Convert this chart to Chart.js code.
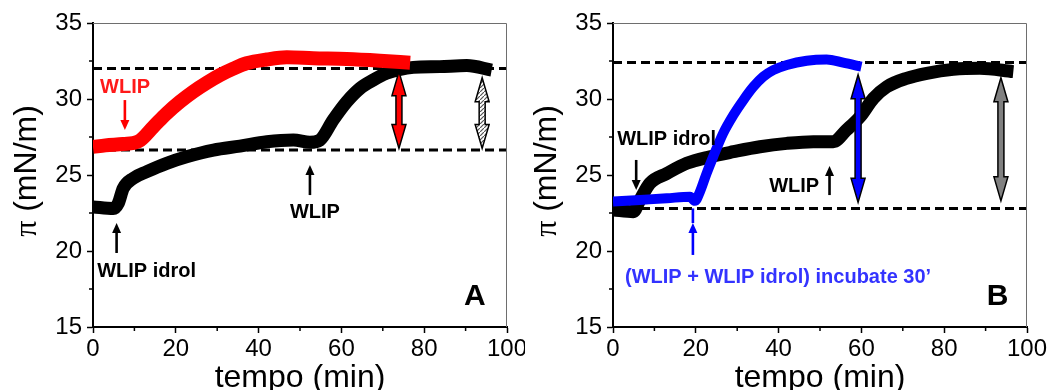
<!DOCTYPE html>
<html>
<head>
<meta charset="utf-8">
<title>Pressione superficiale - WLIP</title>
<script src="https://cdn.jsdelivr.net/npm/chart.js@4.4.1/dist/chart.umd.min.js"></script>
<style>
  html, body { margin: 0; padding: 0; background: #fff; }
  #wrap { display: flex; width: 1050px; height: 390px; overflow: hidden; }
  .panel { position: relative; width: 525px; height: 390px; }
  canvas { display: block; }
</style>
</head>
<body>
<div id="wrap">
  <div class="panel"><canvas id="panelA" width="525" height="390"></canvas></div>
  <div class="panel"><canvas id="panelB" width="525" height="390"></canvas></div>
</div>
<script>
// ---- axis ticks ----
const xTicks = [0, 20, 40, 60, 80, 100];
const xMinorTicks = [10, 30, 50, 70, 90];
const yTicks = [15, 20, 25, 30, 35];
const yMinorTicks = [17.5, 22.5, 27.5, 32.5];

// ---- panel A: surface pressure (mN/m) vs time (min) ----
const timeA_wlip = [0, 3, 7.3, 10.9, 14.6, 17.8, 21, 24.2, 27.5, 30.7, 33.9, 37.1, 42, 46.8, 53.2, 61.3, 69.3, 76.6];
const piA_wlip   = [26.85, 26.95, 27.04, 27.2, 28.18, 29.06, 29.82, 30.48, 31.07, 31.58, 32.0, 32.35, 32.6, 32.74, 32.68, 32.63, 32.52, 32.39];

const timeA_idrol = [0, 4.9, 6.1, 7.3, 9.7, 13, 17.8, 22.6, 29.1, 35.5, 42, 48.4, 52.4, 54.8, 58, 61.3, 64.5, 67.7, 70.9, 74.2, 77.4, 83.8, 90.3, 96.3];
const piA_idrol   = [22.9, 22.8, 23.14, 24.12, 24.78, 25.22, 25.77, 26.2, 26.64, 26.9, 27.19, 27.3, 27.15, 27.3, 28.62, 29.82, 30.7, 31.25, 31.69, 31.95, 32.08, 32.13, 32.2, 31.9];

const levelsA = [32.0, 26.65];

// ---- panel B ----
const timeB_mix = [0, 6.5, 13, 18.6, 19.8, 21, 22.6, 24.2, 26.6, 29.1, 31.5, 33.9, 36.3, 38.7, 42, 46.8, 51.6, 55.6, 60];
const piB_mix   = [23.25, 23.36, 23.47, 23.57, 23.3, 23.9, 25.1, 26.2, 27.74, 28.95, 29.93, 30.8, 31.47, 31.9, 32.24, 32.52, 32.6, 32.39, 32.13];

const timeB_idrol = [0, 4.9, 6.5, 8.9, 13, 17.8, 23.4, 29.1, 35.5, 42, 48.4, 53.2, 56.4, 59.7, 62.9, 66.1, 70.9, 75.8, 82.2, 88.6, 96.7];
const piB_idrol   = [22.7, 22.59, 23.36, 24.45, 25.1, 25.77, 26.2, 26.53, 26.86, 27.08, 27.19, 27.19, 27.96, 28.84, 30.04, 30.8, 31.36, 31.69, 31.95, 32.02, 31.8];

const levelsB = [32.4, 22.8];

// ---- helpers ----
const SANS = '"Liberation Sans", Arial, Helvetica, sans-serif';
const SERIF = '"Liberation Serif", "Times New Roman", serif';

function pairs(xs, ys) { return xs.map((t, i) => ({ x: t, y: ys[i] })); }

function traceSet(xs, ys, color, width) {
  return { data: pairs(xs, ys), borderColor: color, borderWidth: width, pointRadius: 0, cubicInterpolationMode: 'monotone', fill: false };
}

function levelSet(v) {
  return { data: [{ x: 0, y: v }, { x: 100, y: v }], borderColor: '#000', borderWidth: 3, borderDash: [9, 5], pointRadius: 0, tension: 0, fill: false };
}

function hatch(ctx) {
  const c = document.createElement('canvas');
  c.width = 4; c.height = 4;
  const g = c.getContext('2d');
  g.fillStyle = '#fff'; g.fillRect(0, 0, 4, 4);
  g.strokeStyle = '#555'; g.lineWidth = 1.2;
  g.beginPath(); g.moveTo(-1, 5); g.lineTo(5, -1); g.stroke();
  return ctx.createPattern(c, 'repeat');
}

function thinArrow(ctx, x, yFrom, yTo, color) {
  const dir = yTo < yFrom ? -1 : 1;
  const hl = 10, hw = 4.5;
  ctx.strokeStyle = color; ctx.fillStyle = color; ctx.lineWidth = 2.6;
  ctx.beginPath(); ctx.moveTo(x, yFrom); ctx.lineTo(x, yTo - dir * hl * 0.6); ctx.stroke();
  ctx.beginPath();
  ctx.moveTo(x, yTo);
  ctx.lineTo(x - hw, yTo - dir * hl);
  ctx.lineTo(x + hw, yTo - dir * hl);
  ctx.closePath(); ctx.fill();
}

function fatArrow(ctx, x, yTop, yBot, fill) {
  const hl = 24, hw = 7, sw = 3;
  ctx.beginPath();
  ctx.moveTo(x, yTop);
  ctx.lineTo(x + hw, yTop + hl);
  ctx.lineTo(x + sw, yTop + hl);
  ctx.lineTo(x + sw, yBot - hl);
  ctx.lineTo(x + hw, yBot - hl);
  ctx.lineTo(x, yBot);
  ctx.lineTo(x - hw, yBot - hl);
  ctx.lineTo(x - sw, yBot - hl);
  ctx.lineTo(x - sw, yTop + hl);
  ctx.lineTo(x - hw, yTop + hl);
  ctx.closePath();
  ctx.fillStyle = fill; ctx.fill();
  ctx.strokeStyle = '#000'; ctx.lineWidth = 1.5; ctx.lineJoin = 'miter'; ctx.stroke();
}

// frame, minor ticks, axis titles and annotations
const panelDecor = {
  id: 'panelDecor',
  afterDraw(chart, args, opts) {
    const { ctx, chartArea: ca } = chart;
    const sx = chart.scales.x, sy = chart.scales.y;
    const X = v => sx.getPixelForValue(v), Y = v => sy.getPixelForValue(v);
    ctx.save();

    // thin upper / right frame
    ctx.strokeStyle = '#6e6e6e'; ctx.lineWidth = 1;
    ctx.beginPath();
    ctx.moveTo(ca.left, ca.top + 0.5);
    ctx.lineTo(ca.right - 0.5, ca.top + 0.5);
    ctx.lineTo(ca.right - 0.5, ca.bottom);
    ctx.stroke();

    // minor ticks
    ctx.strokeStyle = '#000'; ctx.lineWidth = 1.5;
    xMinorTicks.forEach(v => { const p = X(v); ctx.beginPath(); ctx.moveTo(p, ca.bottom); ctx.lineTo(p, ca.bottom + 4); ctx.stroke(); });
    yMinorTicks.forEach(v => { const p = Y(v); ctx.beginPath(); ctx.moveTo(ca.left, p); ctx.lineTo(ca.left - 4, p); ctx.stroke(); });

    // x title
    ctx.fillStyle = '#000';
    ctx.font = '32px ' + SANS;
    ctx.textAlign = 'center'; ctx.textBaseline = 'alphabetic';
    ctx.fillText('tempo (min)', (ca.left + ca.right) / 2, 387);

    // y title: serif pi followed by the unit
    ctx.save();
    ctx.translate(ca.left - 57, (ca.top + ca.bottom) / 2 - 4);
    ctx.rotate(-Math.PI / 2);
    ctx.textAlign = 'left';
    ctx.font = '32px ' + SERIF;
    const wPi = ctx.measureText('\u03c0').width;
    ctx.font = '32px ' + SANS;
    const wRest = ctx.measureText(' (mN/m)').width;
    const start = -(wPi + wRest) / 2;
    ctx.font = '32px ' + SERIF;
    ctx.fillText('\u03c0', start, 0);
    ctx.font = '32px ' + SANS;
    ctx.fillText(' (mN/m)', start + wPi, 0);
    ctx.restore();

    // annotations
    (opts.items || []).forEach(it => {
      if (it.kind === 'text') {
        ctx.font = it.font;
        ctx.fillStyle = it.color;
        ctx.textAlign = it.align || 'left';
        ctx.textBaseline = 'alphabetic';
        ctx.fillText(it.text, X(it.x), Y(it.y));
      } else if (it.kind === 'arrow') {
        thinArrow(ctx, X(it.x), Y(it.from), Y(it.to), it.color);
        if (it.tail !== undefined) {
          ctx.strokeStyle = it.color; ctx.lineWidth = 2.6;
          ctx.beginPath(); ctx.moveTo(X(it.x), Y(it.to)); ctx.lineTo(X(it.x), Y(it.tail)); ctx.stroke();
        }
      } else if (it.kind === 'double') {
        const fill = it.fill === 'hatch' ? hatch(ctx) : it.fill;
        fatArrow(ctx, X(it.x), Y(it.top), Y(it.bottom), fill);
      }
    });
    ctx.restore();
  }
};

function buildPanel(id, datasets, leftWidth, rightPad, items) {
  const tickFont = { family: SANS, size: 24 };
  return new Chart(document.getElementById(id), {
    type: 'line',
    data: { datasets },
    options: {
      responsive: false,
      animation: false,
      devicePixelRatio: 1,
      layout: { padding: { left: 0, right: rightPad, top: 23, bottom: 0 } },
      plugins: {
        legend: { display: false },
        tooltip: { enabled: false },
        panelDecor: { items }
      },
      elements: { line: { borderJoinStyle: 'round', borderCapStyle: 'butt' } },
      scales: {
        x: {
          type: 'linear', min: 0, max: 100,
          afterBuildTicks: s => { s.ticks = xTicks.map(v => ({ value: v })); },
          ticks: { font: tickFont, color: '#000', padding: 2, maxRotation: 0, autoSkip: false },
          grid: { drawOnChartArea: false, drawTicks: true, tickLength: 6, tickWidth: 1.5, tickColor: '#000' },
          border: { display: true, color: '#000', width: 2 },
          afterFit: s => { s.height = 63; s.paddingLeft = 0; s.paddingRight = 0; }
        },
        y: {
          type: 'linear', min: 15, max: 35,
          afterBuildTicks: s => { s.ticks = yTicks.map(v => ({ value: v })); },
          ticks: { font: tickFont, color: '#000', padding: 5 },
          grid: { drawOnChartArea: false, drawTicks: true, tickLength: 6, tickWidth: 1.5, tickColor: '#000' },
          border: { display: true, color: '#000', width: 2 },
          afterFit: s => { s.width = leftWidth; s.paddingTop = 0; s.paddingBottom = 0; }
        }
      }
    },
    plugins: [panelDecor]
  });
}

const annotFont = 'bold 20px ' + SANS;

buildPanel('panelA', [
  traceSet(timeA_wlip, piA_wlip, '#ff0000', 14),
  traceSet(timeA_idrol, piA_idrol, '#000000', 13),
  levelSet(levelsA[0]),
  levelSet(levelsA[1])
], 93, 18, [
  { kind: 'text', text: 'WLIP', x: 1.7, y: 30.4, color: '#ff1a1a', font: annotFont },
  { kind: 'arrow', x: 7.7, from: 29.93, to: 27.96, color: '#ff0000' },
  { kind: 'arrow', x: 5.7, from: 19.87, to: 21.84, color: '#000' },
  { kind: 'text', text: 'WLIP idrol', x: 1.0, y: 18.3, color: '#000', font: annotFont },
  { kind: 'arrow', x: 52.4, from: 23.68, to: 25.66, color: '#000' },
  { kind: 'text', text: 'WLIP', x: 53.6, y: 22.17, color: '#000', font: annotFont, align: 'center' },
  { kind: 'double', x: 73.9, top: 31.8, bottom: 26.75, fill: '#ff0000' },
  { kind: 'double', x: 94.0, top: 31.4, bottom: 26.75, fill: 'hatch' },
  { kind: 'text', text: 'A', x: 89.6, y: 16.45, color: '#000', font: 'bold 30px ' + SANS }
]);

buildPanel('panelB', [
  traceSet(timeB_mix, piB_mix, '#0000ff', 10),
  traceSet(timeB_idrol, piB_idrol, '#000000', 13),
  levelSet(levelsB[0]),
  levelSet(levelsB[1])
], 88, 23, [
  { kind: 'text', text: 'WLIP idrol', x: 1.0, y: 26.97, color: '#000', font: annotFont },
  { kind: 'arrow', x: 5.6, from: 25.99, to: 24.01, color: '#000' },
  { kind: 'text', text: 'WLIP', x: 49.8, y: 23.9, color: '#000', font: annotFont, align: 'right' },
  { kind: 'arrow', x: 52.3, from: 23.68, to: 25.6, color: '#000' },
  { kind: 'arrow', x: 19.3, from: 19.74, to: 21.84, tail: 22.8, color: '#0000ff' },
  { kind: 'text', text: '(WLIP + WLIP idrol) incubate 30\u2019', x: 2.9, y: 17.9, color: '#3333ff', font: annotFont },
  { kind: 'double', x: 59.2, top: 31.6, bottom: 23.2, fill: '#0000ff' },
  { kind: 'double', x: 93.7, top: 31.4, bottom: 23.3, fill: '#808080' },
  { kind: 'text', text: 'B', x: 90.3, y: 16.45, color: '#000', font: 'bold 30px ' + SANS }
]);
</script>
</body>
</html>
